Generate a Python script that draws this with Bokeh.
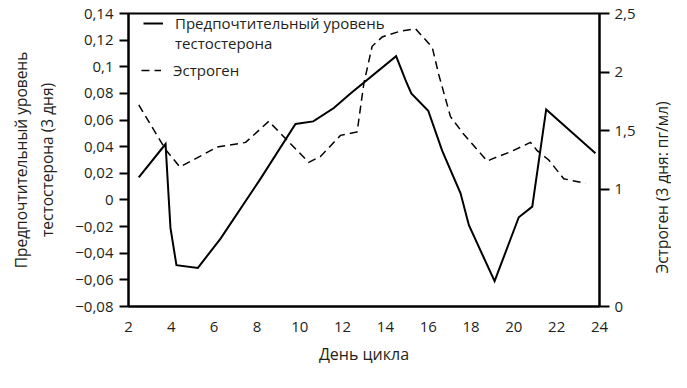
import math
from bokeh.plotting import figure
from bokeh.models import (Range1d, LinearAxis, FixedTicker, CustomJSTickFormatter,
                          Legend, LegendItem, Label)
from bokeh.embed import file_html
from bokeh.resources import INLINE

# ---- data ----
days_t = [2.48, 3.73, 3.96, 4.24, 5.24, 6.30, 8.17, 9.80, 10.63, 11.59, 12.37,
          14.50, 14.94, 15.21, 16.00, 16.65, 17.51, 17.90, 19.10, 20.23, 20.86,
          21.51, 23.81]
testosterone = [0.017, 0.042, -0.021, -0.049, -0.051, -0.029, 0.016, 0.057, 0.059,
                0.069, 0.080, 0.108, 0.090, 0.080, 0.067, 0.037, 0.005, -0.019,
                -0.061, -0.013, -0.005, 0.068, 0.035]

days_e = [2.48, 3.73, 4.40, 6.14, 7.47, 8.55, 10.42, 10.97, 11.90, 12.68, 12.99,
          13.38, 13.85, 14.71, 15.41, 16.19, 16.49, 17.04, 17.66, 18.76, 18.99,
          19.84, 20.78, 21.09, 21.63, 22.33, 23.35]
estrogen = [1.72, 1.34, 1.19, 1.36, 1.40, 1.58, 1.23, 1.28, 1.46, 1.49, 1.90,
            2.22, 2.30, 2.35, 2.37, 2.21, 1.98, 1.62, 1.47, 1.24, 1.26, 1.32,
            1.40, 1.33, 1.25, 1.09, 1.05]

x_ticks = [2, 4, 6, 8, 10, 12, 14, 16, 18, 20, 22, 24]
x_tick_labels = ["2", "4", "6", "8", "10", "12", "14", "16", "18", "20", "22", "24"]
left_ticks = [-0.08, -0.06, -0.04, -0.02, 0, 0.02, 0.04, 0.06, 0.08, 0.1, 0.12, 0.14]
left_tick_labels = ["−0,08", "−0,06", "−0,04", "−0,02", "0", "0,02", "0,04",
                    "0,06", "0,08", "0,1", "0,12", "0,14"]
right_ticks = [0, 1, 1.5, 2, 2.5]
right_tick_labels = ["0", "1", "1,5", "2", "2,5"]

label_t1 = "Предпочтительный уровень"
label_t2 = "тестостерона"
label_e = "Эстроген"
x_title = "День цикла"
y_title_left = "Предпочтительный уровень\nтестостерона (3 дня)"
y_title_right = "Эстроген (3 дня: пг/мл)"

FONT = "Open Sans"
TXT = "#231f20"

def fmt(tv, tl):
    return CustomJSTickFormatter(args=dict(tv=tv, tl=tl), code="""
        for (let i = 0; i < tv.length; i++) {
            if (Math.abs(tv[i] - tick) < 1e-9) return tl[i];
        }
        return '';
    """)

p = figure(width=671, height=372, x_range=Range1d(2, 24), y_range=Range1d(-0.08, 0.14),
           output_backend="svg", toolbar_location=None,
           min_border_left=128, min_border_right=72, min_border_top=13,
           min_border_bottom=66)
p.extra_y_ranges = {"estro": Range1d(0, 2.5)}
p.xgrid.visible = False
p.ygrid.visible = False
p.outline_line_color = "black"
p.outline_line_width = 2
p.background_fill_color = "white"
p.border_fill_color = "white"

def style_axis(ax):
    ax.axis_line_color = "black"
    ax.axis_line_width = 2
    ax.major_tick_line_color = "black"
    ax.major_tick_line_width = 2
    ax.minor_tick_line_color = None
    ax.major_tick_in = 0
    ax.major_label_text_font = FONT
    ax.major_label_text_font_size = "15px"
    ax.major_label_text_color = TXT
    ax.axis_label_text_font = FONT
    ax.axis_label_text_font_size = "15.5px"
    ax.axis_label_text_font_style = "normal"
    ax.axis_label_text_color = TXT

xa = p.xaxis[0]
style_axis(xa)
xa.ticker = FixedTicker(ticks=x_ticks)
xa.formatter = fmt(x_ticks, x_tick_labels)
xa.major_tick_out = 0
xa.major_label_standoff = 15
xa.axis_label = x_title
xa.axis_label_text_font_size = "16px"
xa.axis_label_standoff = 8

ya = p.yaxis[0]
style_axis(ya)
ya.ticker = FixedTicker(ticks=left_ticks)
ya.formatter = fmt(left_ticks, left_tick_labels)
ya.major_tick_out = 9
ya.major_label_standoff = 6
ya.axis_label = y_title_left
ya.axis_label_standoff = 14

ra = LinearAxis(y_range_name="estro")
style_axis(ra)
ra.ticker = FixedTicker(ticks=right_ticks)
ra.formatter = fmt(right_ticks, right_tick_labels)
ra.major_tick_out = 10
ra.major_label_standoff = 5
p.add_layout(ra, "right")

# right-hand axis title, reading bottom-to-top like the reference (side panel)
right_title = Label(x=23, y=119, x_units="screen", y_units="screen",
                    text=y_title_right, angle=math.pi / 2, text_align="center",
                    text_baseline="middle", text_font=FONT, text_font_size="15.5px",
                    text_color=TXT)
p.add_layout(right_title, "right")

r_t = p.line(days_t, testosterone, line_color="black", line_width=2, line_join="miter")
r_e = p.line(days_e, estrogen, y_range_name="estro", line_color="black",
             line_width=1.5, line_dash="8 5", line_join="miter")

common = dict(background_fill_alpha=0, border_line_alpha=0, padding=0, margin=0,
              spacing=0, glyph_width=20, glyph_height=20, label_standoff=12,
              label_text_font=FONT, label_text_font_size="15px",
              label_text_line_height=1.2, label_text_color=TXT)
legend_a = Legend(items=[LegendItem(label=label_t1, renderers=[r_t]),
                         LegendItem(label=label_t2, renderers=[])],
                  location=(15, 253), **common)
legend_b = Legend(items=[LegendItem(label=label_e, renderers=[r_e])],
                  location=(13, 226), **common)
p.add_layout(legend_a)
p.add_layout(legend_b)

open("out.html", "w").write(file_html(p, INLINE))
